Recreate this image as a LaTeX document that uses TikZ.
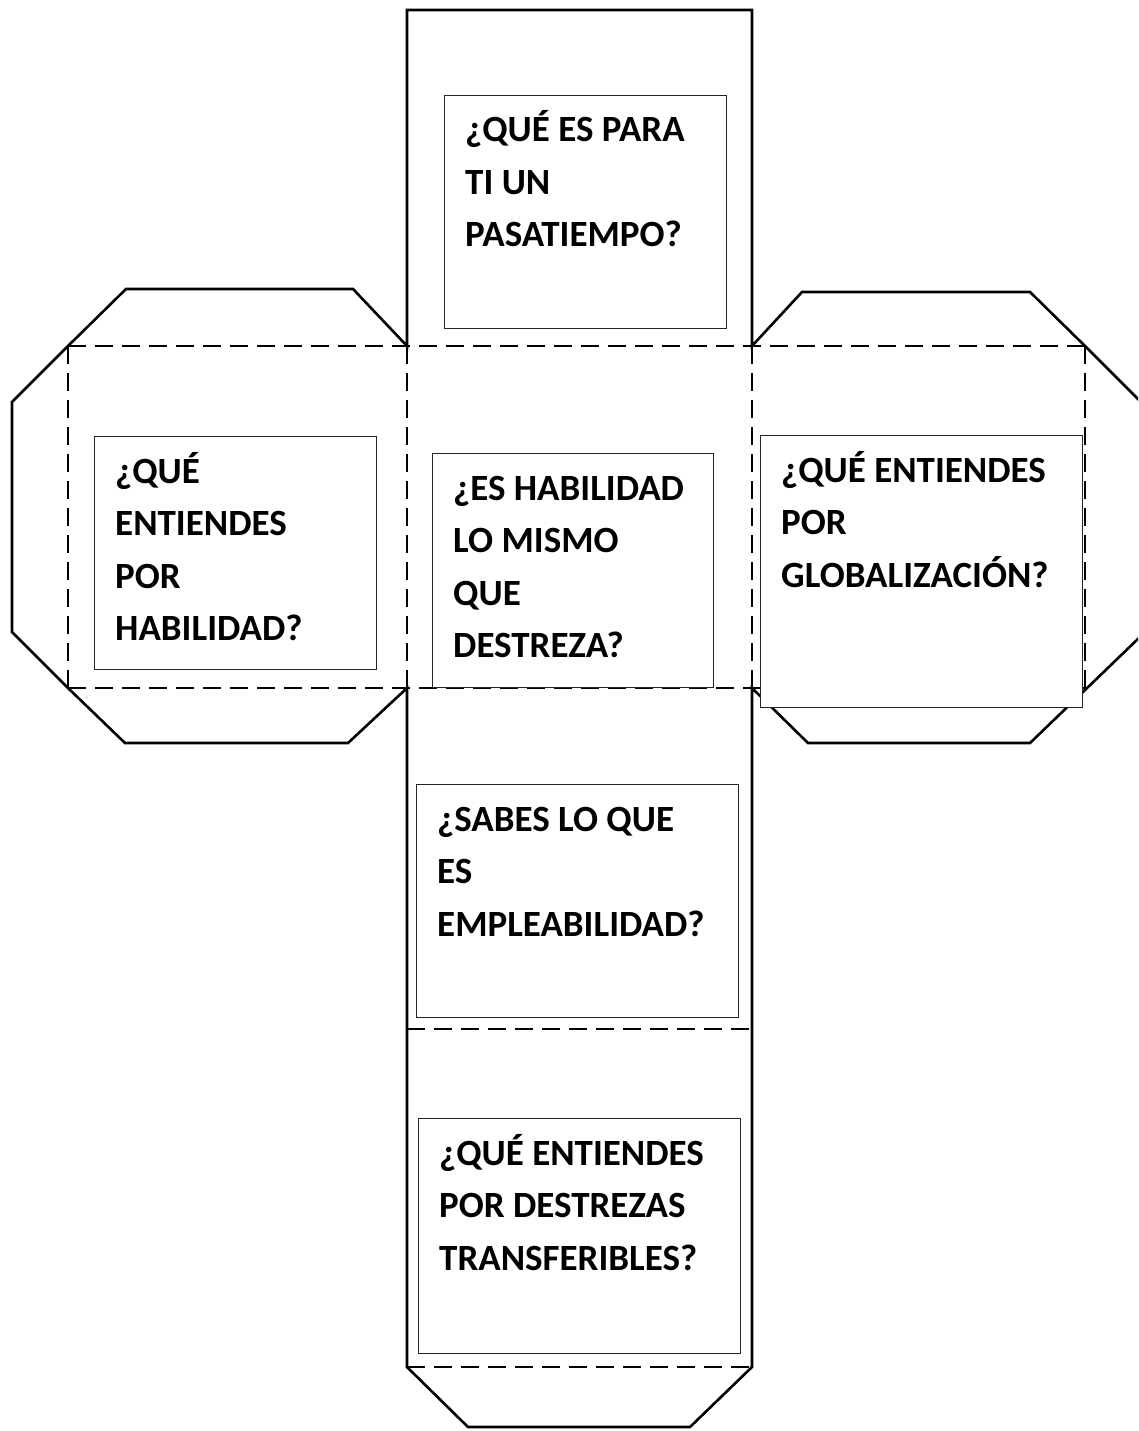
\documentclass[tikz,border=0pt]{standalone}
\usepackage{fontspec}
\setmainfont{Carlito}
\begin{document}
\begin{tikzpicture}[x=1pt,y=-1pt,
 corte/.style={line width=2.6pt,line join=miter},
 pliegue/.style={line width=2pt,dash pattern=on 18pt off 9pt},
 caja/.style={draw=black!85,line width=0.9pt,fill=white,anchor=north west,inner sep=0pt},
 texto/.style={anchor=base west,inner sep=0pt,font=\fontsize{37}{52.5}\selectfont\bfseries}]
 \def\i{407}%columna izquierda
 \def\d{752}%columna derecha
 \clip (0,0) rectangle (1138,1431);
 % pliegues
 \draw[pliegue]
 (68,346)--(1085,346)
 (68,688)--(1085,688)
 (68,346)--(68,688)
 (\i,346)--(\i,688)
 (\d,346)--(\d,688)
 (1085,346)--(1085,690)
 (\i,1029)--(\d,1029)
 (\i,1367)--(\d,1367);
 % contorno
 \draw[corte] (\i,10)--(\d,10)--(\d,346)
 --(802,292)--(1030,292)--(1085,346)
 --(1141,402)--(1141,636)--(1085,690)
 --(1030,743)--(808,743)--(\d,688)
 --(\d,1367)--(690,1427)--(468,1427)--(\i,1367)
 --(\i,688)--(348,743)--(125,743)--(68,688)
 --(12,632)--(12,402)--(68,346)
 --(126,289)--(353,289)--(\i,346)--cycle;
 % caras
 \foreach \n/\x/\y/\w/\h/\t in {
 a/444/95/282/233/{¿QUÉ ES PARA\\TI UN\\PASATIEMPO?},
 b/94/436/282/233/{¿QUÉ\\ENTIENDES\\POR\\HABILIDAD?},
 c/432/453/281/234/{¿ES HABILIDAD\\LO MISMO\\QUE\\DESTREZA?},
 d/760/435/322/272/{¿QUÉ ENTIENDES\\POR\\GLOBALIZACIÓN?},
 e/416/784/322/233/{¿SABES LO QUE\\ES\\EMPLEABILIDAD?},
 f/418/1118/322/235/{¿QUÉ ENTIENDES\\POR DESTREZAS\\TRANSFERIBLES?}}
 {
 \node[caja,minimum width=\w pt,minimum height=\h pt] (caja\n) at (\x,\y) {};
 \node[texto] (texto\n) at ([shift={(21,47)}]caja\n.north west)
 {\parbox[t]{300pt}{\raggedright\t}};
 }
\end{tikzpicture}
\end{document}
